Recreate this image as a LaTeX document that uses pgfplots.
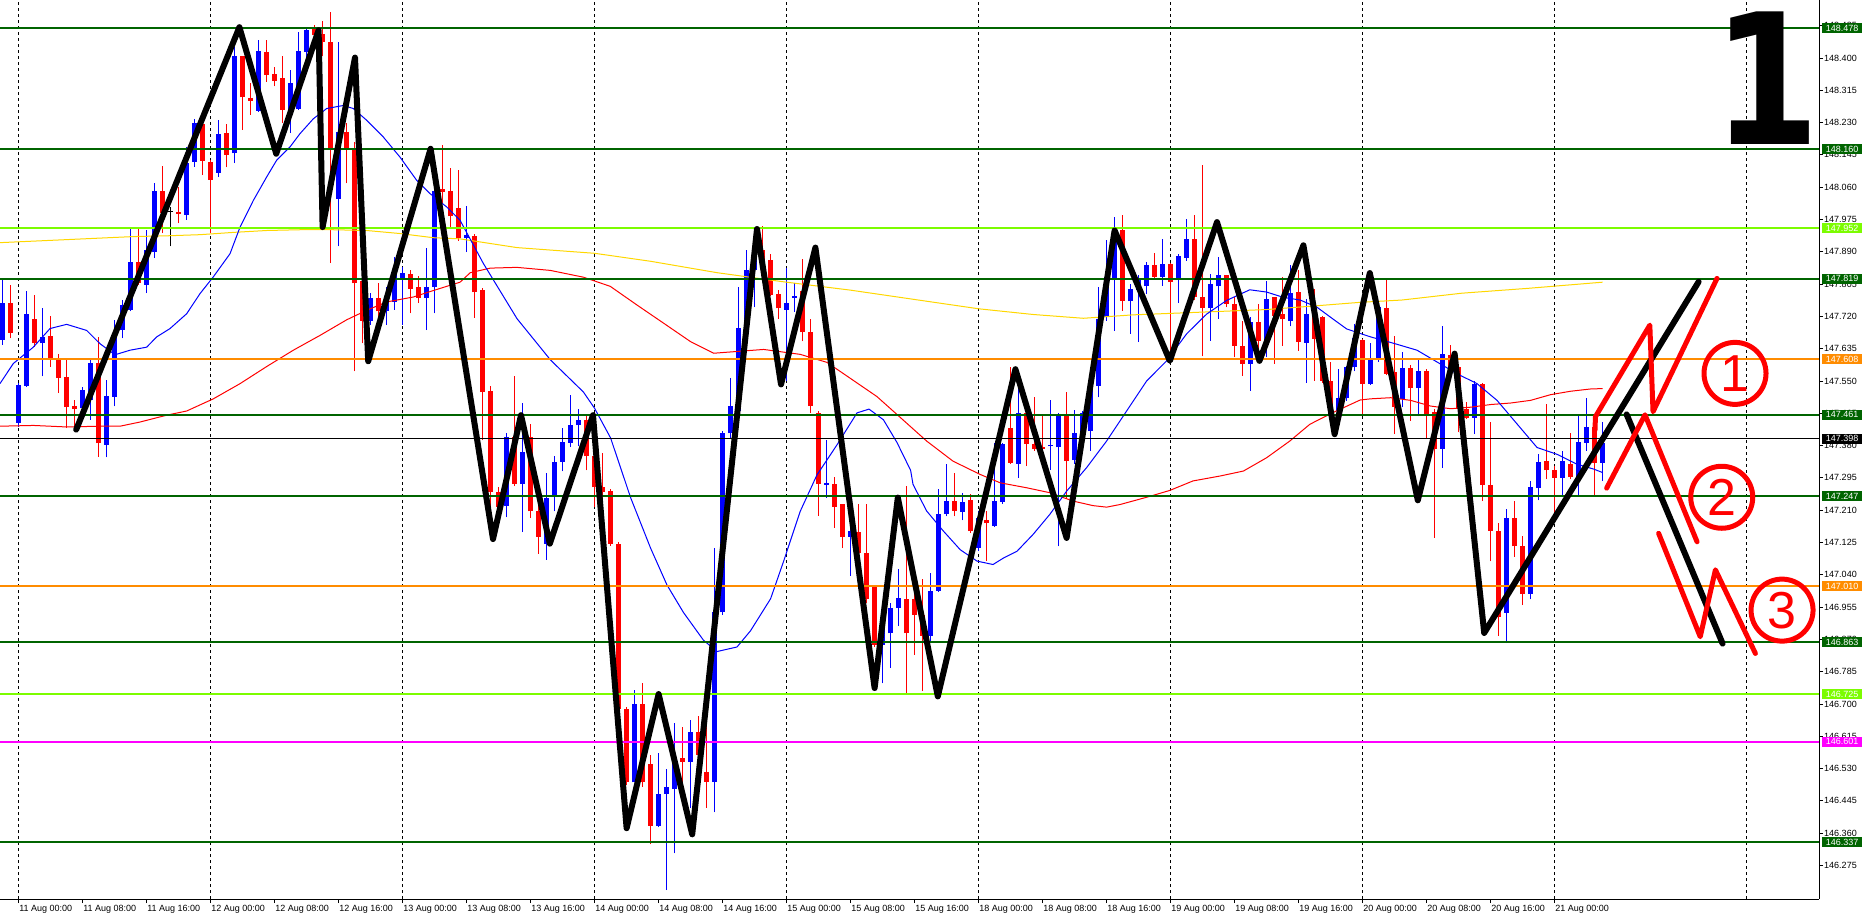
\documentclass[border=0pt]{standalone}
\usepackage{fontspec}
\setmainfont{Liberation Sans}
\newfontfamily\djv{DejaVu Sans}
\usepackage{pgfplots}
\usepackage{pgfplotstable}
\pgfplotsset{compat=1.18}
\definecolor{dkgreen}{RGB}{0,100,0}
\definecolor{lgreen}{RGB}{124,252,0}
\definecolor{orng}{RGB}{255,140,0}
\definecolor{mag}{RGB}{255,0,255}
\definecolor{goldc}{RGB}{255,215,0}
\definecolor{bl}{RGB}{0,0,255}
\definecolor{rd}{RGB}{255,0,0}

\pgfplotstableread{
h o hi lo c
-2 147.658 147.816 147.645 147.754
0 147.439 147.544 147.430 147.539
1 147.538 147.787 147.535 147.727
3 147.649 147.741 147.562 147.665
8 147.478 147.535 147.465 147.527
9 147.500 147.608 147.448 147.597
11 147.382 147.553 147.349 147.511
12 147.509 147.711 147.483 147.667
13 147.684 147.763 147.662 147.750
14 147.737 147.952 147.733 147.864
16 147.803 147.948 147.781 147.895
17 147.889 148.072 147.873 148.050
21 147.987 148.167 147.974 148.123
22 148.127 148.240 148.114 148.228
25 148.098 148.237 148.088 148.199
27 148.149 148.430 148.123 148.404
30 148.261 148.447 148.259 148.418
34 148.263 148.369 148.202 148.333
35 148.266 148.469 148.263 148.418
36 148.417 148.478 148.386 148.474
40 148.029 148.443 147.904 148.206
44 147.709 147.781 147.698 147.768
46 147.735 147.798 147.698 147.762
47 147.758 147.877 147.737 147.834
48 147.822 147.851 147.698 147.834
51 147.768 147.899 147.684 147.797
52 147.797 148.061 147.728 148.051
56 147.925 148.010 147.889 147.935
61 147.221 147.414 147.191 147.402
63 147.279 147.491 147.152 147.364
66 147.122 147.309 147.080 147.243
67 147.245 147.352 147.207 147.337
68 147.337 147.426 147.312 147.390
69 147.388 147.513 147.376 147.434
70 147.433 147.475 147.378 147.448
77 146.494 146.738 146.494 146.699
80 146.379 146.570 146.376 146.464
81 146.464 146.530 146.210 146.482
82 146.476 146.651 146.307 146.554
84 146.548 146.657 146.427 146.627
87 146.496 147.110 146.415 146.941
88 146.941 147.418 146.935 147.414
89 147.412 147.557 147.400 147.484
90 147.472 147.798 147.466 147.690
91 147.690 147.895 147.678 147.841
92 147.841 147.955 147.744 147.895
96 147.738 147.847 147.551 147.756
97 147.768 147.808 147.732 147.774
101 147.277 147.394 147.243 147.282
104 147.140 147.225 147.038 147.156
108 146.856 146.935 146.754 146.930
109 146.886 146.965 146.796 146.953
110 146.953 147.056 146.905 146.980
114 146.880 147.045 146.860 146.998
115 146.998 147.265 146.996 147.201
116 147.200 147.331 147.194 147.234
118 147.205 147.254 147.183 147.232
120 147.111 147.208 147.102 147.190
122 147.168 147.388 147.166 147.234
123 147.232 147.388 147.227 147.384
125 147.332 147.542 147.296 147.467
129 147.378 147.500 147.317 147.382
130 147.375 147.467 147.115 147.458
132 147.341 147.473 147.331 147.412
133 147.410 147.470 147.400 147.467
134 147.419 147.542 147.366 147.537
135 147.537 147.797 147.507 147.713
136 147.718 147.920 147.709 147.823
137 147.815 147.982 147.682 147.947
139 147.760 147.806 147.674 147.792
140 147.790 147.828 147.652 147.820
141 147.801 147.863 147.780 147.856
143 147.823 147.923 147.801 147.858
145 147.819 147.885 147.755 147.878
146 147.873 147.977 147.867 147.924
149 147.742 147.832 147.656 147.804
150 147.799 147.876 147.713 147.828
154 147.595 147.718 147.524 147.704
156 147.656 147.814 147.612 147.766
159 147.709 147.854 147.694 147.781
161 147.650 147.766 147.546 147.727
165 147.470 147.581 147.450 147.506
166 147.506 147.590 147.498 147.586
167 147.587 147.700 147.575 147.662
169 147.543 147.649 147.540 147.609
170 147.605 147.760 147.600 147.746
173 147.503 147.627 147.481 147.583
175 147.531 147.607 147.457 147.575
178 147.371 147.695 147.322 147.620
182 147.453 147.551 147.410 147.543
186 146.940 147.214 146.860 147.189
189 146.990 147.287 146.975 147.271
190 147.269 147.357 147.236 147.337
193 147.296 147.366 147.247 147.340
195 147.297 147.459 147.247 147.390
196 147.388 147.505 147.366 147.430
198 147.335 147.441 147.287 147.388
}\bull

\pgfplotstableread{
h o hi lo c
-1 147.754 147.803 147.662 147.677
2 147.713 147.776 147.640 147.649
4 147.668 147.721 147.588 147.607
5 147.607 147.621 147.518 147.559
6 147.561 147.605 147.426 147.481
7 147.483 147.500 147.430 147.477
10 147.597 147.667 147.351 147.386
15 147.864 147.952 147.803 147.807
18 148.050 148.117 147.939 147.991
20 147.995 148.061 147.965 147.989
23 148.226 148.232 148.092 148.130
24 148.125 148.132 147.939 148.079
26 148.202 148.225 148.112 148.145
28 148.404 148.404 148.211 148.296
29 148.296 148.333 148.250 148.288
31 148.415 148.447 148.338 148.355
32 148.358 148.377 148.325 148.339
33 148.346 148.404 148.230 148.263
37 148.475 148.487 148.439 148.460
38 148.462 148.496 148.404 148.443
39 148.441 148.522 147.860 148.158
41 148.206 148.228 148.070 148.162
42 148.162 148.180 147.575 147.807
43 147.812 147.812 147.649 147.709
45 147.769 147.807 147.698 147.733
49 147.832 147.842 147.728 147.793
50 147.797 147.825 147.755 147.769
53 148.054 148.171 148.018 148.046
54 148.050 148.110 147.956 147.983
55 148.006 148.105 147.919 147.925
57 147.931 147.937 147.716 147.783
58 147.790 147.795 147.394 147.521
59 147.524 147.536 147.219 147.259
60 147.259 147.271 147.213 147.219
62 147.402 147.563 147.273 147.279
64 147.402 147.436 147.189 147.207
65 147.209 147.231 147.096 147.140
71 147.448 147.458 147.315 147.352
72 147.352 147.466 147.219 147.270
73 147.270 147.361 147.243 147.257
74 147.261 147.265 147.116 147.122
75 147.122 147.125 146.675 146.687
76 146.687 146.692 146.488 146.494
78 146.699 146.754 146.482 146.494
79 146.542 146.566 146.331 146.379
83 146.557 146.639 146.434 146.548
85 146.627 146.669 146.518 146.566
86 146.520 146.669 146.427 146.496
93 147.895 147.958 147.830 147.860
94 147.869 147.883 147.774 147.777
95 147.778 147.790 147.714 147.741
98 147.786 147.871 147.654 147.678
99 147.678 147.714 147.466 147.484
100 147.466 147.472 147.195 147.279
102 147.279 147.297 147.164 147.219
103 147.225 147.225 147.110 147.140
105 147.152 147.225 147.074 147.098
106 147.098 147.225 146.965 146.977
107 147.011 147.013 146.850 146.856
111 146.977 147.273 146.730 146.886
112 146.975 147.030 146.830 146.935
113 146.935 147.030 146.735 146.880
117 147.234 147.309 147.194 147.208
119 147.236 147.252 147.150 147.155
121 147.183 147.208 147.076 147.175
124 147.427 147.586 147.331 147.335
126 147.467 147.507 147.326 147.385
127 147.385 147.507 147.366 147.370
128 147.377 147.458 147.322 147.370
131 147.458 147.520 147.239 147.340
138 147.947 147.986 147.735 147.760
142 147.856 147.887 147.819 147.823
144 147.858 147.860 147.603 147.810
147 147.923 147.986 147.762 147.770
148 147.770 148.118 147.615 147.742
151 147.828 147.830 147.744 147.753
152 147.753 147.770 147.612 147.643
153 147.643 147.709 147.564 147.596
155 147.704 147.753 147.612 147.656
157 147.770 147.772 147.595 147.722
158 147.726 147.823 147.643 147.713
160 147.784 147.841 147.630 147.652
162 147.727 147.792 147.550 147.660
163 147.719 147.722 147.546 147.550
164 147.550 147.600 147.440 147.470
168 147.657 147.660 147.463 147.543
171 147.741 147.816 147.565 147.569
172 147.574 147.668 147.410 147.481
174 147.583 147.591 147.446 147.531
176 147.575 147.582 147.397 147.463
177 147.468 147.477 147.137 147.371
179 147.618 147.644 147.578 147.587
180 147.587 147.593 147.415 147.477
181 147.475 147.494 147.450 147.452
183 147.541 147.545 147.234 147.276
184 147.276 147.441 147.075 147.156
185 147.156 147.175 146.880 146.930
187 147.190 147.234 147.088 147.115
188 147.115 147.141 146.960 146.990
191 147.340 147.490 147.291 147.315
192 147.315 147.327 147.203 147.296
194 147.331 147.413 147.291 147.297
197 147.428 147.446 147.251 147.335
}\bear

\pgfplotstableread{
h o hi lo c
19 147.996 148.009 147.904 147.995
}\doji

\begin{document}
\begin{tikzpicture}
\begin{axis}[
  at={(0pt,0pt)}, anchor=south west,
  scale only axis, width=1819pt, height=899pt,
  xmin=-2.325, xmax=225.05, ymin=146.1868, ymax=148.5526,
  axis x line*=bottom, axis y line*=right,
  axis line style={-, black, line width=1pt},
  every outer x axis line/.append style={-},
  every outer y axis line/.append style={-},
  clip=false,
  xtick={0,8,...,192},
  xticklabels={11 Aug 00:00,11 Aug 08:00,11 Aug 16:00,12 Aug 00:00,12 Aug 08:00,12 Aug 16:00,13 Aug 00:00,13 Aug 08:00,13 Aug 16:00,14 Aug 00:00,14 Aug 08:00,14 Aug 16:00,15 Aug 00:00,15 Aug 08:00,15 Aug 16:00,18 Aug 00:00,18 Aug 08:00,18 Aug 16:00,19 Aug 00:00,19 Aug 08:00,19 Aug 16:00,20 Aug 00:00,20 Aug 08:00,20 Aug 16:00,21 Aug 00:00},
  ytick={146.275,146.360,146.445,146.530,146.615,146.700,146.785,146.870,146.955,147.040,147.125,147.210,147.295,147.380,147.465,147.550,147.635,147.720,147.805,147.890,147.975,148.060,148.145,148.230,148.315,148.400,148.485},
  yticklabels={146.275,146.360,146.445,146.530,146.615,146.700,146.785,146.870,146.955,147.040,147.125,147.210,147.295,147.380,147.465,147.550,147.635,147.720,147.805,147.890,147.975,148.060,148.145,148.230,148.315,148.400,148.485},
  tick align=outside, major tick length=4pt,
  tick style={black, line width=0.8pt},
  xticklabel style={anchor=west, yshift=-6pt, xshift=0.5pt, inner sep=0pt, font=\fontsize{9}{10}\selectfont},
  yticklabel style={anchor=west, inner sep=0pt, xshift=1pt, font=\fontsize{9}{10}\selectfont},
  extra x ticks={0,24,...,216}, extra x tick labels={},
  extra x tick style={grid=major, major tick length=0pt},
  major grid style={black, dash pattern=on 3pt off 3pt, line width=0.8pt},
]
% wicks
\addplot[draw=none, mark=none, mark size=0pt, forget plot,
  error bars/.cd, y dir=plus, y explicit, error mark=none,
  error bar style={draw=bl, line width=1pt, solid}]
  table[x=h, y=lo, y error plus expr={\thisrow{hi}-\thisrow{lo}}] {\bull};
\addplot[draw=none, mark=none, mark size=0pt, forget plot,
  error bars/.cd, y dir=plus, y explicit, error mark=none,
  error bar style={draw=rd, line width=1pt, solid}]
  table[x=h, y=lo, y error plus expr={\thisrow{hi}-\thisrow{lo}}] {\bear};
\addplot[draw=none, mark=none, mark size=0pt, forget plot,
  error bars/.cd, y dir=plus, y explicit, error mark=none,
  error bar style={draw=black, line width=1pt, solid}]
  table[x=h, y=lo, y error plus expr={\thisrow{hi}-\thisrow{lo}}] {\doji};
% bodies
\addplot[draw=none, mark=none, mark size=0pt, forget plot,
  error bars/.cd, y dir=plus, y explicit, error mark=none,
  error bar style={draw=bl, line width=5pt, solid}]
  table[x=h, y=o, y error plus expr={max(\thisrow{c}-\thisrow{o},0.0025)}] {\bull};
\addplot[draw=none, mark=none, mark size=0pt, forget plot,
  error bars/.cd, y dir=plus, y explicit, error mark=none,
  error bar style={draw=rd, line width=5pt, solid}]
  table[x=h, y=c, y error plus expr={max(\thisrow{o}-\thisrow{c},0.0025)}] {\bear};
\addplot[draw=none, mark=none, mark size=0pt, forget plot,
  error bars/.cd, y dir=plus, y explicit, error mark=none,
  error bar style={draw=black, line width=5pt, solid}]
  table[x=h, y=c, y error plus expr={0.0025}] {\doji};

% moving averages
\addplot[goldc, line width=1pt, mark=none] coordinates {
(-2.33,147.914) (1.84,147.918) (6.01,147.922) (10.18,147.926) (14.34,147.930) (18.51,147.932) (22.68,147.935) (26.84,147.941) (31.01,147.946) (35.18,147.948) (39.34,147.948) (43.51,147.946) (47.68,147.938) (51.84,147.927) (55.18,147.924)
(62.3,147.901) (72,147.886) (79,147.865) (87.3,147.835) (95.6,147.811) (104,147.789) (111.5,147.766)
(120,147.740) (126.8,147.725) (133.1,147.715) (139.3,147.724) (147.7,147.731) (156,147.738) (162.3,147.748) (167.7,147.757)
(172.9,147.763) (180.4,147.781) (188.8,147.794) (198,147.810)};
\addplot[rd, line width=1pt, mark=none] coordinates {
(-2.33,147.431) (1.84,147.433) (6.01,147.429) (10.18,147.431) (12.68,147.431) (15.18,147.442) (18.51,147.460) (21.01,147.471) (24.34,147.503) (27.68,147.543) (31.01,147.588) (34.34,147.631) (37.68,147.670) (41.01,147.711) (43.51,147.736) (46.01,147.758) (49.34,147.771) (51.84,147.788) (55.18,147.810)
(56.46,147.835) (58.96,147.847) (62.29,147.849) (66.46,147.841) (70.63,147.823) (73.96,147.799) (77.29,147.750) (80.63,147.702) (83.96,147.654) (86.88,147.623) (89.38,147.627) (93.13,147.633) (97.71,147.620) (101.04,147.599) (103.96,147.557) (107.29,147.509) (110.21,147.454)
(113.5,147.392) (116.8,147.339) (120.2,147.304) (122.7,147.282) (126.0,147.269) (128.9,147.256) (131.8,147.234) (134.3,147.222) (136.0,147.218) (137.7,147.225) (141.0,147.244) (143.9,147.262) (146.8,147.287) (150.2,147.300) (153.1,147.313) (156.0,147.348) (158.9,147.392) (161.4,147.436) (164.3,147.467) (167.7,147.500)
(169.0,147.503) (171.5,147.506) (174.0,147.499) (176.5,147.484) (179.0,147.477) (181.5,147.481) (184.0,147.488) (186.5,147.492) (189.0,147.499) (191.5,147.514) (194.0,147.523) (196.5,147.529) (198.0,147.530)};
\addplot[bl, line width=1pt, mark=none] coordinates {
(-2.33,147.543) (-0.66,147.596) (1.84,147.639) (3.93,147.688) (6.01,147.699) (8.51,147.683) (10.18,147.648) (12.05,147.619) (13.93,147.631) (16.01,147.639) (17.26,147.666) (18.93,147.688) (21.01,147.727) (22.68,147.780) (24.34,147.824) (26.43,147.885) (27.68,147.955) (29.34,148.025) (31.01,148.087) (32.26,148.131) (33.93,148.166) (35.18,148.201) (36.84,148.240) (38.51,148.267) (40.59,148.275) (41.84,148.267) (43.51,148.236) (45.59,148.192) (47.68,148.139) (49.76,148.078) (51.43,148.043) (53.51,148.008) (55.18,147.973)
(58.1,147.859) (62.3,147.714) (66.5,147.605) (70.6,147.521) (72,147.478) (74,147.400) (76.5,147.243) (79,147.110) (81.05,147.013) (83.1,146.941) (85.6,146.868) (87.3,146.838) (89.8,146.850) (91.5,146.893) (94,146.977) (95.6,147.074) (97.7,147.207) (99.8,147.303) (102.3,147.382) (104.8,147.466) (106.3,147.476) (108.1,147.448) (109.8,147.388) (111.5,147.315)
(111.8,147.278) (113.5,147.208) (115.6,147.155) (117.7,147.106) (119.8,147.076) (121.8,147.067) (123.1,147.084) (124.8,147.102) (126.8,147.146) (128.9,147.199) (131,147.260) (133.5,147.322) (136,147.392) (138.5,147.471) (141,147.550) (143.5,147.603) (146,147.674) (148.5,147.726) (151,147.762) (153.9,147.790) (156,147.784) (158.1,147.770) (160.2,147.763) (162.3,147.744) (164.3,147.713) (166,147.687)
(169,147.666) (171.9,147.649) (174.8,147.631) (177.3,147.600) (179.8,147.569) (182.3,147.543) (184.8,147.499) (187.3,147.437) (189.8,147.375) (192.3,147.357) (194.8,147.331) (196.9,147.318) (198,147.309)};

% horizontal levels
\addplot[dkgreen, line width=2pt] coordinates {(-2.325,148.478) (225.05,148.478)};
\addplot[dkgreen, line width=2pt] coordinates {(-2.325,148.160) (225.05,148.160)};
\addplot[lgreen, line width=2pt] coordinates {(-2.325,147.952) (225.05,147.952)};
\addplot[dkgreen, line width=2pt] coordinates {(-2.325,147.819) (225.05,147.819)};
\addplot[orng, line width=2pt] coordinates {(-2.325,147.608) (225.05,147.608)};
\addplot[dkgreen, line width=2pt] coordinates {(-2.325,147.461) (225.05,147.461)};
\addplot[black, line width=1pt] coordinates {(-2.325,147.398) (225.05,147.398)};
\addplot[dkgreen, line width=2pt] coordinates {(-2.325,147.247) (225.05,147.247)};
\addplot[orng, line width=2pt] coordinates {(-2.325,147.010) (225.05,147.010)};
\addplot[dkgreen, line width=2pt] coordinates {(-2.325,146.863) (225.05,146.863)};
\addplot[lgreen, line width=2pt] coordinates {(-2.325,146.725) (225.05,146.725)};
\addplot[mag, line width=2pt] coordinates {(-2.325,146.601) (225.05,146.601)};
\addplot[dkgreen, line width=2pt] coordinates {(-2.325,146.337) (225.05,146.337)};

% hand-drawn zigzag
\addplot[black, line width=6pt, line join=round, line cap=round, mark=none] coordinates {
(7.2,147.422) (27.6,148.481) (32.2,148.148) (37.5,148.473) (38.0,147.955) (42.05,148.401) (43.7,147.602) (51.5,148.161) (59.3,147.134) (62.8,147.460) (66.4,147.122) (71.8,147.460) (76.0,146.373) (80.0,146.726) (84.2,146.357) (92.3,147.950) (95.3,147.541) (99.6,147.901) (107.0,146.742) (109.9,147.243) (114.9,146.720) (124.6,147.581) (131.0,147.137) (137.0,147.946) (143.9,147.603) (149.8,147.968) (155.1,147.603) (160.6,147.907) (164.5,147.410) (168.9,147.834) (174.9,147.236) (179.5,147.622) (183.2,146.887) (210.0,147.811)};
\addplot[black, line width=6pt, line cap=round, mark=none] coordinates {(201.0,147.462) (213.0,146.859)};
% red projections
\addplot[rd, line width=5pt, line join=round, line cap=round, mark=none] coordinates {(197.05,147.421) (197.1,147.456) (203.9,147.697) (204.3,147.469) (212.3,147.820)};
\addplot[rd, line width=5pt, line join=round, line cap=round, mark=none] coordinates {(198.5,147.268) (203.3,147.461) (209.8,147.127)};
\addplot[rd, line width=5pt, line join=round, line cap=round, mark=none] coordinates {(205.0,147.149) (210.2,146.877) (212.1,147.053) (217.1,146.833)};

\node[draw=rd, circle, line width=5pt, minimum size=62pt, inner sep=0pt, text=rd, font=\fontsize{52}{52}\selectfont] at (axis cs:214.55,147.570) {1};
\node[draw=rd, circle, line width=5pt, minimum size=62pt, inner sep=0pt, text=rd, font=\fontsize{52}{52}\selectfont] at (axis cs:212.89,147.244) {2};
\node[draw=rd, circle, line width=5pt, minimum size=62pt, inner sep=0pt, text=rd, font=\fontsize{52}{52}\selectfont] at (axis cs:220.43,146.947) {3};

\node[anchor=base, inner sep=0pt, xscale=0.84, font=\djv\bfseries\fontsize{182}{182}\selectfont] at (axis cs:218.55,148.171) {1};

\coordinate (L1) at (axis cs:225.05,148.478);
\coordinate (L2) at (axis cs:225.05,148.160);
\coordinate (L3) at (axis cs:225.05,147.952);
\coordinate (L4) at (axis cs:225.05,147.819);
\coordinate (L5) at (axis cs:225.05,147.608);
\coordinate (L6) at (axis cs:225.05,147.461);
\coordinate (L7) at (axis cs:225.05,147.398);
\coordinate (L8) at (axis cs:225.05,147.247);
\coordinate (L9) at (axis cs:225.05,147.010);
\coordinate (L10) at (axis cs:225.05,146.863);
\coordinate (L11) at (axis cs:225.05,146.725);
\coordinate (L12) at (axis cs:225.05,146.601);
\coordinate (L13) at (axis cs:225.05,146.337);
\end{axis}
\tikzset{lb/.style={anchor=west, xshift=3pt, inner xsep=0pt, inner ysep=0pt, minimum width=40pt, minimum height=10pt, text=white, font=\fontsize{9}{10}\selectfont}}
\node[lb, fill=dkgreen] at (L1) {148.478};
\node[lb, fill=dkgreen] at (L2) {148.160};
\node[lb, fill=lgreen] at (L3) {147.952};
\node[lb, fill=dkgreen] at (L4) {147.819};
\node[lb, fill=orng] at (L5) {147.608};
\node[lb, fill=dkgreen] at (L6) {147.461};
\node[lb, fill=black] at (L7) {147.398};
\node[lb, fill=dkgreen] at (L8) {147.247};
\node[lb, fill=orng] at (L9) {147.010};
\node[lb, fill=dkgreen] at (L10) {146.863};
\node[lb, fill=lgreen] at (L11) {146.725};
\node[lb, fill=mag] at (L12) {146.601};
\node[lb, fill=dkgreen] at (L13) {146.337};
\pgfresetboundingbox
\useasboundingbox (0pt,-19pt) rectangle (1862pt,899pt);
\end{tikzpicture}
\end{document}
